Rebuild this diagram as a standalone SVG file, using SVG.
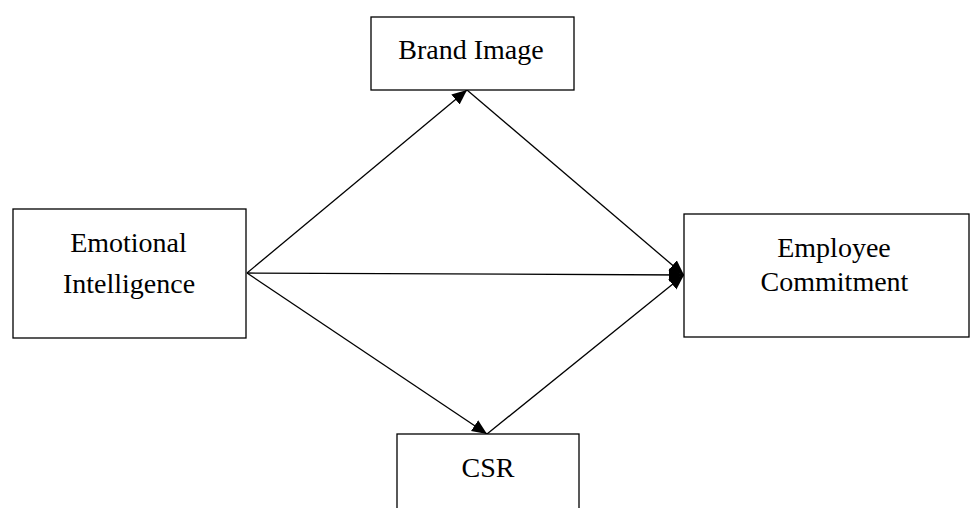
<svg xmlns="http://www.w3.org/2000/svg" width="970" height="508" viewBox="0 0 970 508">
<style>
.box{fill:#fff;stroke:#000;stroke-width:1.3}
.lbl{font-family:"Liberation Serif","Times New Roman",serif;font-size:28px;fill:#000;text-anchor:middle}
.edge{stroke:#000;stroke-width:1.3;fill:none;marker-end:url(#ah)}
</style>
<defs>
<marker id="ah" markerUnits="userSpaceOnUse" markerWidth="16" markerHeight="14" refX="15" refY="6.5" orient="auto">
<path d="M0,0 L15,6.5 L0,13 z" fill="#000"/>
</marker>
</defs>
<rect width="970" height="508" fill="#fff"/>
<g id="connectors">
<line class="edge" x1="247" y1="273" x2="467" y2="90"/>
<line class="edge" x1="467" y1="90" x2="684" y2="275"/>
<line class="edge" x1="247" y1="273" x2="684" y2="275"/>
<line class="edge" x1="247" y1="273" x2="487" y2="434"/>
<line class="edge" x1="487" y1="434" x2="684" y2="275"/>
</g>
<g id="brand-image">
<rect class="box" x="371" y="17" width="203" height="73"/>
<text class="lbl" x="471" y="59">Brand Image</text>
</g>
<g id="emotional-intelligence">
<rect class="box" x="13" y="209" width="233" height="129"/>
<text class="lbl" x="128.5" y="252">Emotional</text>
<text class="lbl" x="129" y="293">Intelligence</text>
</g>
<g id="employee-commitment">
<rect class="box" x="684" y="214" width="285" height="123"/>
<text class="lbl" x="834" y="257">Employee</text>
<text class="lbl" x="834.5" y="291">Commitment</text>
</g>
<g id="csr">
<rect class="box" x="397" y="434" width="182" height="80"/>
<text class="lbl" x="488" y="477">CSR</text>
</g>
</svg>
